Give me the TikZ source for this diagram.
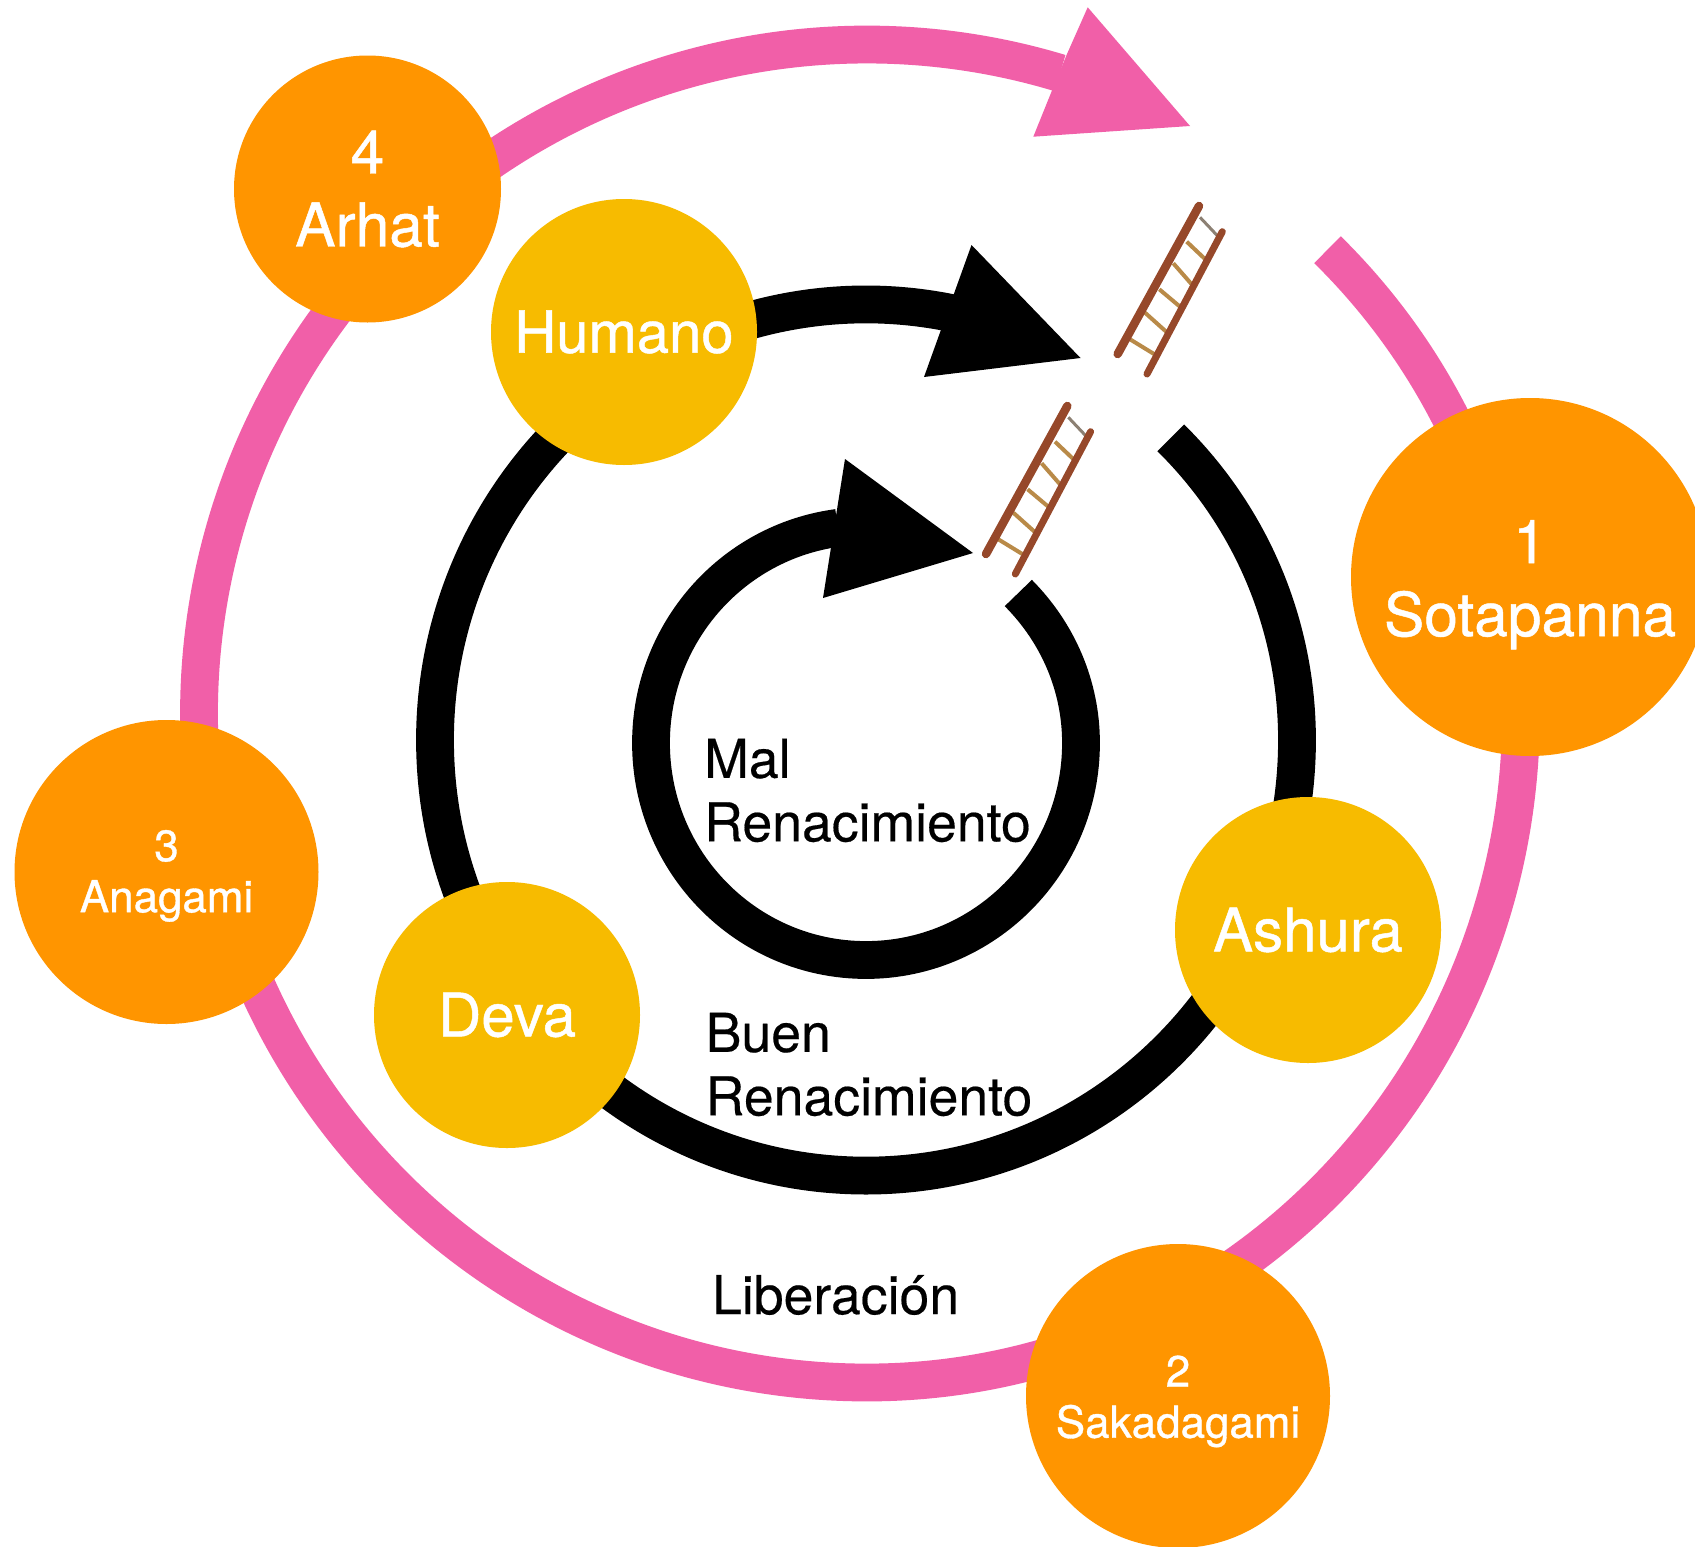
\documentclass[tikz,border=0pt]{standalone}
\usepackage{fontspec}
\setmainfont{TeX Gyre Heros}
\newfontfamily\heavyface[FakeBold=0.8]{TeX Gyre Heros}
\newfontfamily\midface[FakeBold=0.35]{TeX Gyre Heros}
\newcommand\nudge[1]{\rule{0pt}{\dimexpr0.75em+#1*2\relax}}
\definecolor{orangec}{HTML}{FF9500}
\definecolor{yellowc}{HTML}{F7BB00}
\definecolor{pinkc}{HTML}{F15FA8}
\definecolor{railc}{HTML}{96482A}
\definecolor{rungc}{HTML}{B98A48}
\tikzset{
  orangebig/.style={circle,fill=orangec,inner sep=0pt,text=white,align=center,font=\heavyface\fontsize{60.5}{73}\selectfont},
  orangesmall/.style={circle,fill=orangec,inner sep=0pt,text=white,align=center,minimum size=304pt,font=\heavyface\fontsize{44}{51}\selectfont},
  realm/.style={circle,fill=yellowc,inner sep=0pt,text=white,minimum size=266pt,font=\heavyface\fontsize{60}{70}\selectfont},
  caption/.style={inner sep=0pt,align=left,text=black,font=\midface\fontsize{53.6}{63.5}\selectfont},
  pinkring/.style={draw=pinkc,line width=37.8pt},
  blackring/.style={draw=black,line width=37.8pt},
  rail/.style={draw=railc,line width=7pt,line cap=round},
  rung/.style={draw=rungc,line width=4pt},
  ladder/.pic={
    \draw[rung,draw=gray!80!brown,line width=3pt] (1200,217.3)--(1218.3,236.7);
    \draw[rung] (1186.7,241.7)--(1206,260);
    \draw[rung] (1173.3,263.3)--(1192.3,285);
    \draw[rung] (1159.3,289.3)--(1180,306.7);
    \draw[rung] (1145,312.7)--(1167.3,332.7);
    \draw[rung] (1130,339.3)--(1154,354);
    \draw[rail,line width=8.5pt] (1199,206)--(1117.7,354);
    \draw[rail] (1222.3,231.7)--(1147,374);
  }
}
\begin{document}
\begin{tikzpicture}[x=1pt,y=1pt,yscale=-1]
\useasboundingbox (0,0) rectangle (1695,1547);
\clip (0,0) rectangle (1695,1547);
\fill[white] (0,0) rectangle (1695,1547);
% rings
\coordinate (pstart) at (1327.5,249.7);
\coordinate (pright) at (1521,713.5);
\coordinate (mstart) at (1170.7,437.8);
\coordinate (mright) at (1297,740);
\coordinate (istart) at (1018.3,593);
\coordinate (iright) at (1081,743);
\draw[pinkring] (pstart) .. controls (1451.5,372) and (1521,536.5) .. (pright) arc[start angle=0,end angle=90,x radius=654pt,y radius=669pt] arc[start angle=90,end angle=286.8,x radius=668pt,y radius=669pt];
\fill[pinkc] (1190,126)--(1087.7,7.3)--(1067,54)--(1052.7,88.7)--(1033.3,136.7)--cycle;
\draw[blackring] (mstart) .. controls (1252,518) and (1297,626) .. (mright) arc[start angle=0,end angle=281.5,x radius=431pt,y radius=435.6pt];
\fill[black] (1080.5,358)--(971.5,245)--(924,377)--cycle;
\draw[blackring] (istart) .. controls (1058,633) and (1081,686) .. (iright) arc[start angle=0,end angle=262.5,x radius=215pt,y radius=217pt];
\fill[black] (973,553)--(845,459)--(823,598)--cycle;
% ladders
\pic[transform shape] at (0,0) {ladder};
\pic[transform shape] at (-131.7,200) {ladder};
% stages
\node[orangebig,minimum size=267pt] (arhat) at (367.5,189) {4\\Arhat};
\node[orangebig,minimum size=358pt] (sota) at (1530,577) {\nudge{6.5pt}1\\Sotapanna};
\node[orangesmall] (anagami) at (166.5,872) {\nudge{3pt}3\\Anagami};
\node[orangesmall] (saka) at (1178,1396) {\nudge{4.5pt}2\\Sakadagami};
% realms
\node[realm,font=\heavyface\fontsize{58}{70}\selectfont] (humano) at (624,332) {Humano};
\node[realm] (deva) at (507,1015) {Deva};
\node[realm] (ashura) at (1308,930) {Ashura};
% captions
\node[caption,anchor=west] (mal) at (704,790.5) {Mal\\Renacimiento};
\node[caption,anchor=west] (buen) at (705.5,1064.5) {Buen\\Renacimiento};
\node[caption] (lib) at (835.6,1295) {Liberación};
\end{tikzpicture}
\end{document}
